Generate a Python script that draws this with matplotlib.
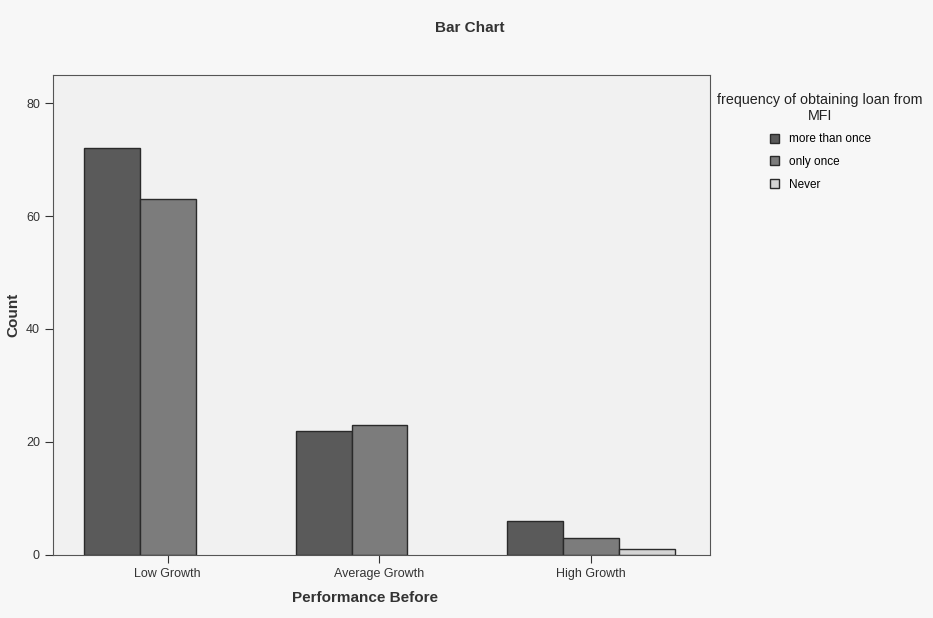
import numpy as np
import matplotlib
matplotlib.use("Agg")
import matplotlib.pyplot as plt

plt.rcParams['font.family'] = ['Liberation Sans', 'DejaVu Sans']

categories = ['Low Growth', 'Average Growth', 'High Growth']
series_names = ['more than once', 'only once', 'Never']
more_than_once = [72, 22, 6]
only_once = [63, 23, 3]
never = [0, 0, 1]
colors = ['#5a5a5a', '#7c7c7c', '#d4d4d4']

fig = plt.figure(figsize=(9.33, 6.18), dpi=100)
fig.patch.set_facecolor('#f7f7f7')
ax = fig.add_axes([0.057, 0.102, 0.704, 0.777])
ax.set_facecolor('#f1f1f1')

x = np.arange(len(categories))
width = 0.264
for i, (vals, name) in enumerate(zip([more_than_once, only_once, never], series_names)):
    # empty cells get no outline
    lw = [1.0 if v > 0 else 0 for v in vals]
    ax.bar(x + (i - 1) * width, vals, width, color=colors[i], edgecolor='#2a2a2a',
           linewidth=lw, label=name)

ax.set_xlim(-0.54, 2.56)
ax.set_ylim(0, 85)
ax.set_yticks([0, 20, 40, 60, 80])
ax.set_xticks(x)
ax.set_xticklabels(categories, fontsize=9)
ax.tick_params(axis='y', labelsize=9, length=6, colors='#333333')
ax.tick_params(axis='x', length=6, colors='#333333')
for s in ax.spines.values():
    s.set_color('#555555')

ax.set_ylabel('Count', fontsize=11, fontweight='bold', color='#333333')
ax.set_xlabel('Performance Before', fontsize=11, fontweight='bold', color='#333333',
              labelpad=12)
ax.xaxis.set_label_coords(0.475, -0.075)
fig.text(0.503, 0.955, 'Bar Chart', ha='center', va='center', fontsize=11,
         fontweight='bold', color='#333333')

leg = ax.legend(loc='upper left', bbox_to_anchor=(0.995, 0.985), frameon=False,
                title='frequency of obtaining loan from\nMFI', fontsize=8.5,
                title_fontsize=10.3, handlelength=0.8, handleheight=0.8,
                labelspacing=0.9)
leg.get_title().set_multialignment('center')
leg.get_title().set_color('#222222')
for h in leg.legend_handles:
    h.set_linewidth(1.0)

fig.savefig('out.png', dpi=100, facecolor=fig.get_facecolor())
